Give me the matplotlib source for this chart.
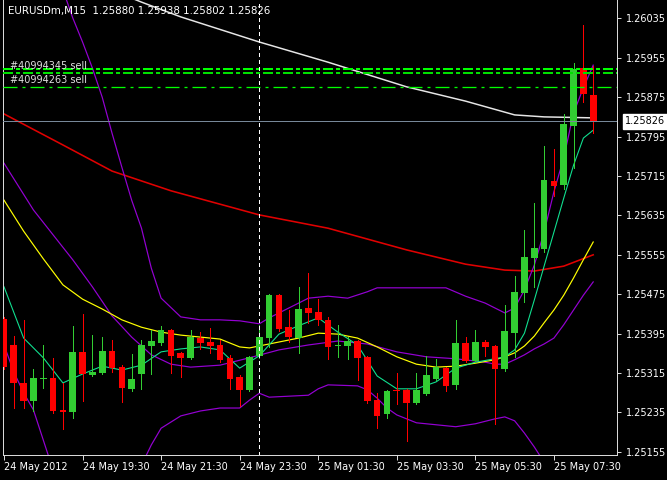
import numpy as np
import matplotlib
matplotlib.use("Agg")
import matplotlib.pyplot as plt

plt.rcParams['lines.scale_dashes'] = False
plt.rcParams['font.family'] = ['DejaVu Sans']

# ---------------- data ----------------
title_text = "EURUSDm,M15  1.25880 1.25938 1.25802 1.25826"

opens = [1.25425, 1.25372, 1.25295, 1.25258, 1.25303, 1.25305, 1.25240, 1.25236, 1.25358, 1.25311,
         1.25315, 1.25360, 1.25327, 1.25283, 1.25313, 1.25370, 1.25376, 1.25402, 1.25356, 1.25346,
         1.25386, 1.25378, 1.25372, 1.25346, 1.25307, 1.25281, 1.25350, 1.25386, 1.25473, 1.25408,
         1.25386, 1.25447, 1.25439, 1.25423, 1.25370, 1.25370, 1.25380, 1.25348, 1.25260, 1.25232,
         1.25281, 1.25281, 1.25254, 1.25272, 1.25303, 1.25325, 1.25291, 1.25376, 1.25339, 1.25378,
         1.25370, 1.25323, 1.25396, 1.25478, 1.25549, 1.25567, 1.25705, 1.25697, 1.25817, 1.25934,
         1.25880]
highs = [1.25429, 1.25390, 1.25423, 1.25323, 1.25372, 1.25346, 1.25295, 1.25411, 1.25435, 1.25392,
         1.25388, 1.25382, 1.25331, 1.25354, 1.25382, 1.25402, 1.25411, 1.25404, 1.25358, 1.25402,
         1.25398, 1.25406, 1.25382, 1.25352, 1.25311, 1.25350, 1.25413, 1.25475, 1.25475, 1.25443,
         1.25490, 1.25518, 1.25465, 1.25429, 1.25413, 1.25388, 1.25382, 1.25350, 1.25274, 1.25281,
         1.25315, 1.25283, 1.25315, 1.25350, 1.25344, 1.25327, 1.25423, 1.25388, 1.25402, 1.25382,
         1.25372, 1.25453, 1.25512, 1.25605, 1.25660, 1.25776, 1.25770, 1.25841, 1.25944, 1.26022,
         1.25938]
lows = [1.25323, 1.25244, 1.25244, 1.25238, 1.25285, 1.25234, 1.25201, 1.25224, 1.25258, 1.25309,
        1.25313, 1.25317, 1.25256, 1.25278, 1.25283, 1.25313, 1.25372, 1.25315, 1.25307, 1.25344,
        1.25364, 1.25356, 1.25337, 1.25283, 1.25248, 1.25278, 1.25346, 1.25368, 1.25400, 1.25378,
        1.25356, 1.25417, 1.25413, 1.25344, 1.25348, 1.25344, 1.25301, 1.25254, 1.25203, 1.25224,
        1.25252, 1.25177, 1.25252, 1.25270, 1.25301, 1.25278, 1.25283, 1.25337, 1.25337, 1.25350,
        1.25212, 1.25319, 1.25348, 1.25459, 1.25490, 1.25561, 1.25674, 1.25689, 1.25731, 1.25865,
        1.25802]
closes = [1.25327, 1.25295, 1.25258, 1.25305, 1.25305, 1.25238, 1.25236, 1.25358, 1.25313, 1.25317,
          1.25360, 1.25325, 1.25285, 1.25303, 1.25372, 1.25380, 1.25402, 1.25350, 1.25346, 1.25388,
          1.25376, 1.25370, 1.25342, 1.25303, 1.25281, 1.25348, 1.25388, 1.25473, 1.25404, 1.25388,
          1.25445, 1.25437, 1.25423, 1.25368, 1.25372, 1.25380, 1.25346, 1.25258, 1.25228, 1.25278,
          1.25278, 1.25254, 1.25281, 1.25311, 1.25327, 1.25289, 1.25376, 1.25339, 1.25378, 1.25368,
          1.25323, 1.25400, 1.25480, 1.25551, 1.25569, 1.25707, 1.25695, 1.25821, 1.25932, 1.25882,
          1.25826]

# fast moving average (green)
ma_fast_bars = [0, 2, 4, 6, 8, 10, 12, 14, 16, 18, 20, 22, 24, 26, 28, 30, 32, 34, 36, 38, 40, 42,
                44, 46, 48, 50, 51, 52, 53, 54, 55, 56, 57, 58, 59, 60]
ma_fast = [1.25490, 1.25386, 1.25346, 1.25295, 1.25313, 1.25329, 1.25321, 1.25331, 1.25358, 1.25364,
           1.25368, 1.25362, 1.25325, 1.25350, 1.25394, 1.25411, 1.25427, 1.25398, 1.25372, 1.25309,
           1.25283, 1.25283, 1.25297, 1.25325, 1.25337, 1.25344, 1.25348, 1.25362, 1.25396, 1.25463,
           1.25532, 1.25601, 1.25670, 1.25737, 1.25792, 1.25808]

# medium moving average (yellow)
ma_mid_bars = [0, 2, 4, 6, 8, 10, 12, 14, 16, 18, 20, 22, 24, 25, 26, 28, 30, 32, 34, 36, 38, 40, 42,
               44, 46, 48, 50, 51, 52, 53, 54, 55, 56, 57, 58, 59, 60]
ma_mid = [1.25666, 1.25603, 1.25547, 1.25494, 1.25465, 1.25445, 1.25423, 1.25408, 1.25398, 1.25392,
          1.25388, 1.25384, 1.25368, 1.25366, 1.25370, 1.25378, 1.25386, 1.25396, 1.25394, 1.25386,
          1.25368, 1.25348, 1.25333, 1.25327, 1.25329, 1.25335, 1.25342, 1.25348, 1.25356, 1.25370,
          1.25390, 1.25417, 1.25443, 1.25473, 1.25508, 1.25545, 1.25581]

# slow moving average (red)
ma_slow_bars = [0, 6, 11, 17, 26, 33, 41, 47, 51, 54, 57, 60]
ma_slow = [1.25841, 1.25778, 1.25725, 1.25685, 1.25636, 1.25609, 1.25565, 1.25536, 1.25524, 1.25522,
           1.25532, 1.25555]

# very slow moving average (white)
ma_long_bars = [13, 14, 18, 26, 33, 41, 47, 52, 55, 60]
ma_long = [1.26076, 1.26068, 1.26038, 1.25987, 1.25946, 1.25896, 1.25867, 1.25839, 1.25835, 1.25833]

# Bollinger bands (purple)
bb_mid_bars = [0, 3, 7, 9, 11, 13, 15, 17, 19, 22, 25, 28, 31, 34, 37, 40, 43, 46, 49, 50, 51, 52,
               53, 54, 55, 56, 57, 58, 59, 60]
bb_mid = [1.25741, 1.25646, 1.25545, 1.25490, 1.25431, 1.25388, 1.25352, 1.25333, 1.25327, 1.25331,
          1.25346, 1.25362, 1.25372, 1.25380, 1.25374, 1.25358, 1.25348, 1.25344, 1.25337, 1.25333,
          1.25333, 1.25342, 1.25352, 1.25364, 1.25374, 1.25386, 1.25413, 1.25443, 1.25473, 1.25500]
bb_up_bars = [6, 7, 8, 9, 10, 11, 12, 13, 14, 15, 16, 18, 20, 22, 24, 26, 27, 29, 31, 33, 35, 37, 38,
              42, 45, 47, 49, 51, 52, 53, 54, 55, 56, 57, 58, 59, 60]
bb_up = [1.26093, 1.26036, 1.25987, 1.25934, 1.25875, 1.25802, 1.25733, 1.25666, 1.25609, 1.25528,
         1.25467, 1.25429, 1.25423, 1.25423, 1.25421, 1.25415, 1.25427, 1.25447, 1.25467, 1.25471,
         1.25467, 1.25480, 1.25488, 1.25488, 1.25488, 1.25471, 1.25457, 1.25437, 1.25447, 1.25484,
         1.25534, 1.25601, 1.25683, 1.25752, 1.25843, 1.25894, 1.25940]
bb_low_bars = [0, 1, 2, 3, 4, 5, 9, 13, 14, 15, 16, 18, 20, 22, 24, 25, 26, 27, 29, 31, 32, 33, 36,
               37, 38, 39, 40, 42, 44, 46, 48, 50, 51, 52, 53, 54, 55, 56]
bb_low = [1.25372, 1.25317, 1.25275, 1.25240, 1.25179, 1.25118, np.nan, 1.25098, 1.25128, 1.25169,
          1.25203, 1.25228, 1.25238, 1.25244, 1.25244, 1.25260, 1.25274, 1.25266, 1.25268, 1.25270,
          1.25283, 1.25291, 1.25289, 1.25281, 1.25264, 1.25244, 1.25230, 1.25214, 1.25210, 1.25206,
          1.25212, 1.25222, 1.25226, 1.25218, 1.25193, 1.25165, 1.25134, 1.25098]

# order lines
order_prices = [1.25932, 1.25924, 1.25896]
order_labels = ["#40994345 sell", "", "#40994263 sell"]

bid_price = 1.25826
separator_bar = 26

price_ticks = [1.26035, 1.25955, 1.25875, 1.25795, 1.25715, 1.25635, 1.25555, 1.25475,
               1.25395, 1.25315, 1.25235, 1.25155]
time_tick_bars = [0, 8, 16, 24, 32, 40, 48, 56]
time_labels = ["24 May 2012", "24 May 19:30", "24 May 21:30", "24 May 23:30",
               "25 May 01:30", "25 May 03:30", "25 May 05:30", "25 May 07:30"]

# ---------------- layout / style ----------------
W, H = 667, 480
PX = 0.72  # points per pixel at dpi 100
fig = plt.figure(figsize=(W / 100, H / 100), dpi=100, facecolor='black')
L, R, T, B = 3, 617, 0, 455
ax = fig.add_axes([L / W, 1 - B / H, (R - L) / W, (B - T) / H])
ax.set_facecolor('black')

bar_px = 9.82
ax.set_xlim(-1.0 / bar_px, (R - 4) / bar_px)
ax.set_ylim(1.2514863, 1.2607228)

BULL = '#32CD32'
BEAR = '#FF0000'
PURPLE = '#9400D3'

# indicators (behind candles)
ax.plot(ma_long_bars, ma_long, color='#E6E6E6', lw=1.5 * PX, zorder=2)
ax.plot(ma_slow_bars, ma_slow, color='#E00000', lw=1.6 * PX, zorder=2)
ax.plot(bb_up_bars, bb_up, color=PURPLE, lw=1.2 * PX, zorder=2)
ax.plot(bb_mid_bars, bb_mid, color=PURPLE, lw=1.2 * PX, zorder=2)
ax.plot(bb_low_bars, bb_low, color=PURPLE, lw=1.2 * PX, zorder=2)
ax.plot(ma_mid_bars, ma_mid, color='#FFFF00', lw=1.2 * PX, zorder=2)
ax.plot(ma_fast_bars, ma_fast, color='#10E090', lw=1.1 * PX, zorder=2)

# candles
o = np.array(opens); h = np.array(highs); l = np.array(lows); c = np.array(closes)
xs = np.arange(len(o))
up = c >= o
cols = np.where(up, BULL, BEAR)
ax.vlines(xs, l, h, colors=cols, lw=1.0 * PX, zorder=3, antialiased=False)
body_h = np.maximum(np.abs(c - o), 0.000015)
ax.bar(xs, body_h, bottom=np.minimum(o, c), width=0.68, color=cols, linewidth=0, zorder=4,
       antialiased=False)

# order lines
ax.axhline(order_prices[0], color='#00FF00', lw=2 * PX, dashes=(10 * PX, 4 * PX, 3 * PX, 4 * PX),
           zorder=5, antialiased=False)
ax.axhline(order_prices[1], color='#00E000', lw=2 * PX, dashes=(10 * PX, 4 * PX, 3 * PX, 4 * PX),
           zorder=5, antialiased=False)
ax.axhline(order_prices[2], color='#00FF00', lw=1.3 * PX, dashes=(14 * PX, 5 * PX, 3 * PX, 5 * PX),
           zorder=5)
ax.annotate(order_labels[0], xy=(0, order_prices[0]), xycoords=('axes fraction', 'data'),
            xytext=(7 * PX, 3 * PX), textcoords='offset points', color='#E0E0E0',
            fontsize=7, va='center', ha='left', zorder=6)
ax.annotate(order_labels[2], xy=(0, order_prices[2]), xycoords=('axes fraction', 'data'),
            xytext=(7 * PX, 7 * PX), textcoords='offset points', color='#E0E0E0',
            fontsize=7, va='center', ha='left', zorder=6)

# bid line
ax.axhline(bid_price, color='#778899', lw=1.0 * PX, zorder=5, antialiased=False)
ax.annotate(f"{bid_price:.5f}", xy=(1, bid_price), xycoords=('axes fraction', 'data'),
            xytext=(8 * PX, 0), textcoords='offset points', color='black', fontsize=7,
            va='center', ha='left', zorder=7, annotation_clip=False,
            bbox=dict(boxstyle='square,pad=0.25', fc='white', ec='white'))

# period separator
ax.axvline(separator_bar - 0.03, color='white', lw=1 * PX, dashes=(4 * PX, 3 * PX), zorder=6,
           antialiased=False)

# axes frame
for side in ['left', 'right', 'bottom']:
    ax.spines[side].set_color('#D8D8D8')
    ax.spines[side].set_linewidth(1 * PX)
ax.spines['top'].set_visible(False)

ax.yaxis.tick_right()
ax.set_yticks(price_ticks)
ax.set_yticklabels([f"{p:.5f}" for p in price_ticks])
ax.tick_params(axis='y', colors='#D8D8D8', labelcolor='white', length=4 * PX, width=1 * PX,
               direction='out', pad=5 * PX, labelsize=7)
ax.set_xticks(time_tick_bars)
ax.set_xticklabels(time_labels, ha='left')
ax.tick_params(axis='x', colors='#D8D8D8', labelcolor='white', length=5 * PX, width=1 * PX,
               direction='out', pad=2 * PX, labelsize=7)
for lab in ax.get_xticklabels():
    lab.set_horizontalalignment('left')

fig.text(8 / W, 1 - 11 / H, title_text, color='white', fontsize=7.4, va='center', ha='left')

fig.savefig('out.png', dpi=100, facecolor='black')
